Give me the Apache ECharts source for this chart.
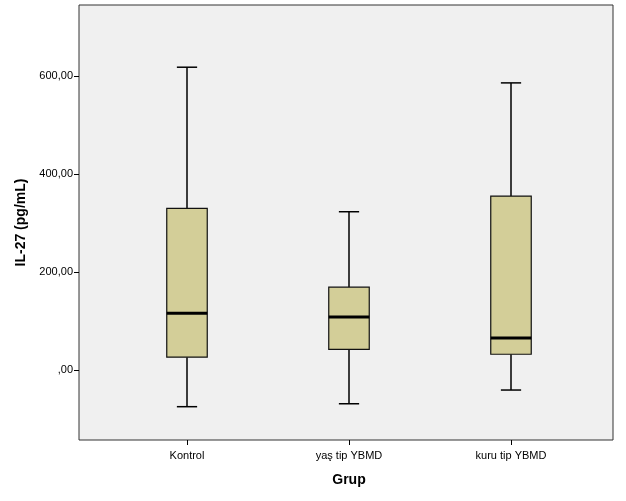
<!DOCTYPE html>
<html><head><meta charset="utf-8">
<script src="https://cdn.jsdelivr.net/npm/echarts@6/dist/echarts.min.js"></script>
<style>html,body{margin:0;padding:0;background:#fff}#c{width:626px;height:501px}</style>
</head><body><div id="c"></div>
<script>
const categories = ['Kontrol', 'yaş tip YBMD', 'kuru tip YBMD'];
const whiskerLow = [-75, -69, -41];
const q1 = [26, 42, 32];
const median = [116, 108, 65];
const q3 = [330, 169, 355];
const whiskerHigh = [618, 323, 586];
const yTicks = [0, 200, 400, 600];

const data = categories.map((c, i) => [i, whiskerLow[i], q1[i], median[i], q3[i], whiskerHigh[i]]);
const yMin = -143, yMax = 745;
const font = '"Liberation Sans", Arial, sans-serif';

const chart = echarts.init(document.getElementById('c'), null, {renderer: 'canvas'});
chart.setOption({
  backgroundColor: '#ffffff',
  animation: false,
  grid: [
    {left: 79, right: 13, top: 5, bottom: 61, show: true, backgroundColor: '#f0f0f0', borderColor: '#333', borderWidth: 1},
    {left: 106, width: 486, top: 5, bottom: 61}
  ],
  xAxis: [
    {type: 'category', gridIndex: 0, data: categories, show: false},
    {type: 'category', gridIndex: 1, data: categories,
     axisLine: {show: false, onZero: false},
     axisTick: {show: true, alignWithLabel: true, length: 5, lineStyle: {color: '#000'}},
     axisLabel: {color: '#000', fontSize: 11, fontFamily: font, margin: 10},
     name: 'Grup', nameLocation: 'middle', nameGap: 33,
     nameTextStyle: {fontSize: 14, fontWeight: 'bold', color: '#000', fontFamily: font}}
  ],
  yAxis: [
    {type: 'value', gridIndex: 0, min: yMin, max: yMax,
     axisLine: {show: false}, splitLine: {show: false},
     axisTick: {show: true, length: 5, customValues: yTicks, lineStyle: {color: '#000'}},
     axisLabel: {color: '#000', fontSize: 11, fontFamily: font, margin: 6, customValues: yTicks,
       formatter: v => (v === 0 ? '' : String(v)) + ',00'},
     name: 'IL-27 (pg/mL)', nameLocation: 'middle', nameGap: 49, nameRotate: 90,
     nameTextStyle: {fontSize: 14, fontWeight: 'bold', color: '#000', fontFamily: font}},
    {type: 'value', gridIndex: 1, min: yMin, max: yMax, show: false}
  ],
  series: [{
    type: 'custom', xAxisIndex: 1, yAxisIndex: 1, data: data,
    renderItem: function (params, api) {
      const x = api.value(0);
      const pLow = api.coord([x, api.value(1)]);
      const pQ1 = api.coord([x, api.value(2)]);
      const pMed = api.coord([x, api.value(3)]);
      const pQ3 = api.coord([x, api.value(4)]);
      const pHigh = api.coord([x, api.value(5)]);
      const band = api.size([1, 0])[0];
      const bw = band * 0.25;
      const cw = bw / 2;
      const cx = pLow[0];
      const ls = {stroke: '#000', lineWidth: 1.5};
      return {type: 'group', children: [
        {type: 'line', shape: {x1: cx, y1: pHigh[1], x2: cx, y2: pQ3[1]}, style: ls},
        {type: 'line', shape: {x1: cx, y1: pQ1[1], x2: cx, y2: pLow[1]}, style: ls},
        {type: 'line', shape: {x1: cx - cw/2, y1: pHigh[1], x2: cx + cw/2, y2: pHigh[1]}, style: ls},
        {type: 'line', shape: {x1: cx - cw/2, y1: pLow[1], x2: cx + cw/2, y2: pLow[1]}, style: ls},
        {type: 'rect', shape: {x: cx - bw/2, y: pQ3[1], width: bw, height: pQ1[1] - pQ3[1]},
         style: {fill: '#d3ce98', stroke: '#111', lineWidth: 1.2}},
        {type: 'line', shape: {x1: cx - bw/2, y1: pMed[1], x2: cx + bw/2, y2: pMed[1]}, style: {stroke: '#000', lineWidth: 3}}
      ]};
    }
  }]
});
</script></body></html>
